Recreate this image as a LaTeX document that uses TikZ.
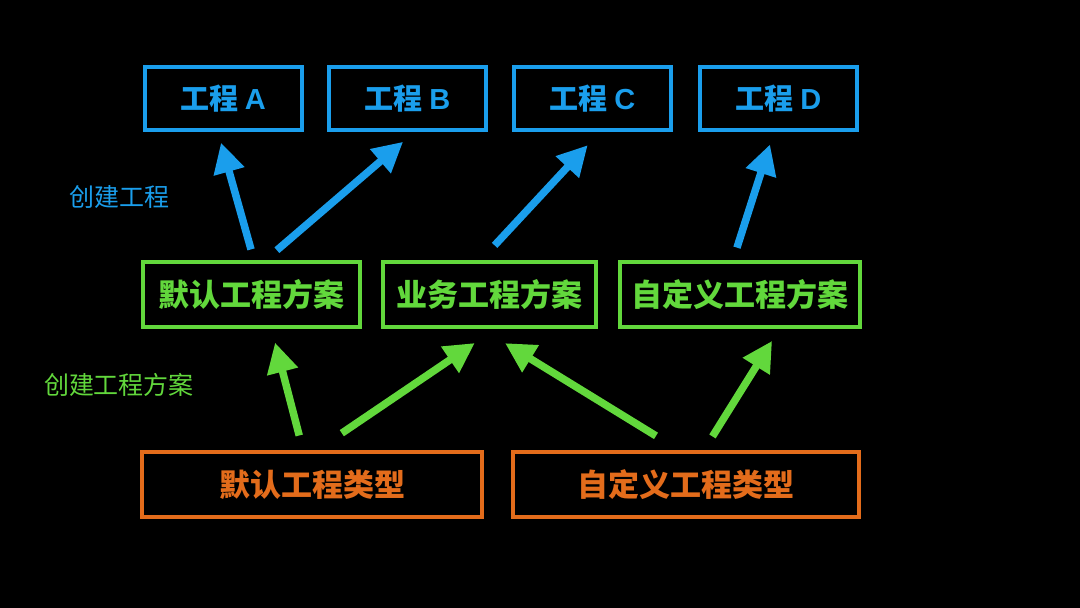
\documentclass[tikz,border=0pt]{standalone}
\usepackage{fontspec}
\setmainfont{Noto Sans CJK SC}
\newfontfamily\latinfont{Liberation Sans}
\usepackage{tikz}
\usetikzlibrary{arrows.meta,positioning}
\definecolor{pblue}{HTML}{1A9EEC}
\definecolor{pgreen}{HTML}{62D83C}
\definecolor{porange}{HTML}{E36C1B}
\tikzset{
  projbox/.style={draw=pblue,line width=4pt,text=pblue,minimum height=63pt,font=\fontsize{29}{31}\selectfont\bfseries,inner sep=0pt},
  planbox/.style={draw=pgreen,line width=4pt,text=pgreen,minimum height=65pt,font=\fontsize{31}{33}\selectfont\bfseries,inner sep=0pt},
  typebox/.style={draw=porange,line width=4pt,text=porange,minimum height=65pt,font=\fontsize{31}{33}\selectfont\bfseries,inner sep=0pt},
  barr/.style={-{Triangle[length=30pt,width=30pt]},line width=7.5pt,draw=pblue},
  garr/.style={-{Triangle[length=30pt,width=30pt]},line width=7.5pt,draw=pgreen},
  lbl/.style={font=\fontsize{25}{27}\selectfont,inner sep=0pt},
}
\begin{document}
\begin{tikzpicture}[x=1pt,y=-1pt]
  \fill[black] (0,0) rectangle (1080,608);
  \useasboundingbox (0,0) rectangle (1080,608);
  % projects
  \foreach \nm/\x in {A/223,B/407.5,C/592.5,D/778.5} {
    \node[projbox,minimum width=157pt] (\nm) at (\x,98.5) {工程 {\latinfont\bfseries\nm}};
  }
  % plans
  \node[planbox,minimum width=217pt] (pa) at (251.5,294.5) {默认工程方案};
  \node[planbox,minimum width=213pt] (ba) at (489.5,294.5) {业务工程方案};
  \node[planbox,minimum width=240pt] (ca) at (740,294.5) {自定义工程方案};
  % types
  \node[typebox,minimum width=340pt] (dt) at (312,484.5) {默认工程类型};
  \node[typebox,minimum width=346pt] (ct) at (686,484.5) {自定义工程类型};
  \node[lbl,text=pblue] (l1) at (119,197) {创建工程};
  \node[lbl,text=pgreen] (l2) at (119,385) {创建工程方案};
  \draw[barr,shorten <=11pt,shorten >=11pt] ([xshift=2.5pt]pa.north) -- ([xshift=-5pt]A.south);
  \draw[barr,shorten <=15pt,shorten >=15pt] ([xshift=14pt]pa.north) -- ([xshift=7pt]B.south);
  \draw[barr,shorten <=20pt,shorten >=18pt] ([xshift=-8.5pt]ba.north) -- ([xshift=7.5pt]C.south);
  \draw[barr,shorten <=13pt,shorten >=13pt] ([xshift=-7pt]ca.north) -- ([xshift=-4.5pt]D.south);
  \draw[garr,shorten <=15pt,shorten >=14pt] ([xshift=-9pt]dt.north) -- ([xshift=20pt]pa.south);
  \draw[garr,shorten <=30pt,shorten >=25pt] ([xshift=5pt]dt.north) -- ([xshift=6pt]ba.south);
  \draw[garr,shorten <=27pt,shorten >=27pt] ([xshift=-7pt]ct.north) -- ([xshift=-7.5pt]ba.south);
  \draw[garr,shorten <=16pt,shorten >=14pt] ([xshift=18pt]ct.north) -- ([xshift=39.5pt]ca.south);
\end{tikzpicture}
\end{document}
